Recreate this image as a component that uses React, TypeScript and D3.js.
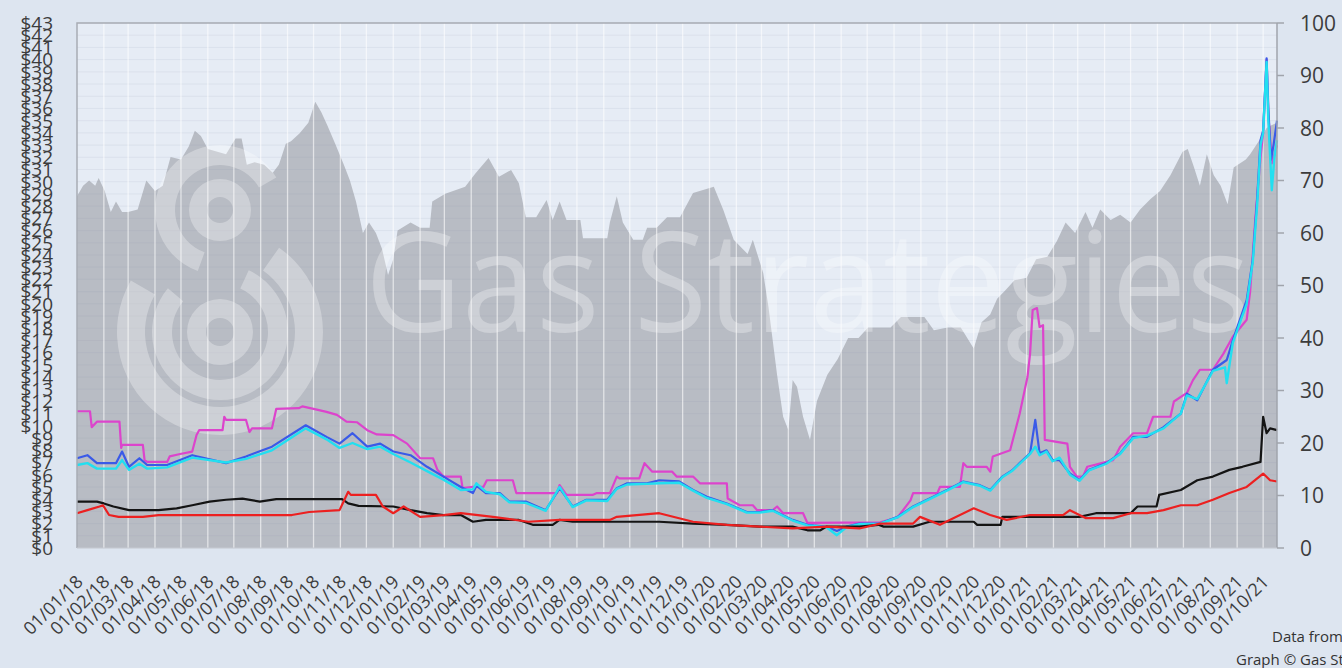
import { useEffect, useRef } from "react"
import * as d3 from "d3"

type Point = [string, number]

// oil price, right axis (grey area)
const oilArea: Point[] = [
  ["2018-01-01", 67], ["2018-01-08", 69], ["2018-01-15", 70], ["2018-01-22", 69], ["2018-01-26", 70.5],
  ["2018-02-02", 68], ["2018-02-09", 64], ["2018-02-15", 66], ["2018-02-22", 64], ["2018-03-01", 64],
  ["2018-03-12", 64.5], ["2018-03-22", 70], ["2018-04-01", 68], ["2018-04-10", 69], ["2018-04-19", 74.5],
  ["2018-05-01", 74], ["2018-05-10", 76.5], ["2018-05-17", 79.5], ["2018-05-24", 78.5], ["2018-06-01", 76],
  ["2018-06-12", 75.5], ["2018-06-22", 75], ["2018-07-03", 78], ["2018-07-10", 78], ["2018-07-16", 73],
  ["2018-07-25", 73.5], ["2018-08-05", 73], ["2018-08-15", 71.5], ["2018-08-22", 73], ["2018-08-30", 77],
  ["2018-09-05", 77.5], ["2018-09-15", 79], ["2018-09-25", 81], ["2018-10-03", 85], ["2018-10-10", 83],
  ["2018-10-17", 80.5], ["2018-10-26", 77], ["2018-11-05", 73], ["2018-11-12", 70], ["2018-11-19", 66],
  ["2018-11-27", 60], ["2018-12-04", 62], ["2018-12-12", 60], ["2018-12-19", 57], ["2018-12-26", 52],
  ["2019-01-01", 55], ["2019-01-06", 60.5], ["2019-01-21", 62], ["2019-02-01", 61], ["2019-02-12", 61],
  ["2019-02-15", 66], ["2019-03-02", 67.5], ["2019-03-25", 68.8], ["2019-04-06", 71.4], ["2019-04-21", 74.3],
  ["2019-05-03", 70.7], ["2019-05-17", 72], ["2019-05-26", 69.5], ["2019-06-03", 63], ["2019-06-15", 63],
  ["2019-06-27", 66.3], ["2019-07-04", 62.5], ["2019-07-12", 66], ["2019-07-20", 62.5], ["2019-08-05", 62.5],
  ["2019-08-08", 59], ["2019-09-05", 59], ["2019-09-08", 62], ["2019-09-16", 67], ["2019-09-23", 62],
  ["2019-10-05", 58.7], ["2019-10-16", 58.7], ["2019-10-21", 61], ["2019-11-01", 61], ["2019-11-13", 63],
  ["2019-11-28", 63], ["2019-12-13", 67.6], ["2020-01-06", 68.8], ["2020-01-17", 64.4], ["2020-01-29", 58.7],
  ["2020-02-14", 56], ["2020-02-20", 58.7], ["2020-03-03", 52.4], ["2020-03-09", 46], ["2020-03-19", 33],
  ["2020-03-26", 25], ["2020-04-01", 22.5], ["2020-04-06", 32], ["2020-04-11", 30.7], ["2020-04-18", 25],
  ["2020-04-26", 20.6], ["2020-05-04", 28], ["2020-05-16", 33], ["2020-05-28", 36], ["2020-06-09", 40],
  ["2020-06-21", 40], ["2020-07-02", 42], ["2020-07-28", 42], ["2020-08-09", 44], ["2020-09-05", 44],
  ["2020-09-16", 41.5], ["2020-10-02", 42], ["2020-10-17", 42], ["2020-11-01", 38], ["2020-11-10", 43],
  ["2020-11-20", 44.5], ["2020-11-28", 47.5], ["2020-12-07", 49], ["2020-12-18", 51], ["2021-01-01", 51.5],
  ["2021-01-12", 55], ["2021-01-25", 55.5], ["2021-02-05", 58.5], ["2021-02-15", 62], ["2021-02-26", 60],
  ["2021-03-10", 64], ["2021-03-18", 61], ["2021-03-27", 64.5], ["2021-04-08", 62.5], ["2021-04-19", 63.5],
  ["2021-05-01", 62], ["2021-05-12", 64.5], ["2021-05-24", 66.5], ["2021-06-04", 68], ["2021-06-16", 71],
  ["2021-06-30", 75.5], ["2021-07-06", 76], ["2021-07-13", 72.6], ["2021-07-20", 69], ["2021-07-28", 75],
  ["2021-08-05", 71], ["2021-08-13", 69], ["2021-08-21", 65.5], ["2021-08-28", 72.5], ["2021-09-11", 74],
  ["2021-09-16", 75], ["2021-09-28", 78], ["2021-10-05", 80], ["2021-10-10", 80.5], ["2021-10-17", 81],
]

// gas prices, left axis ($)
const pinkLine: Point[] = [
  ["2018-01-01", 11.2], ["2018-01-16", 11.2], ["2018-01-18", 9.9], ["2018-01-24", 10.35], ["2018-02-19", 10.35],
  ["2018-02-21", 8.2], ["2018-02-22", 8.45], ["2018-03-18", 8.45], ["2018-03-20", 7.2], ["2018-03-23", 7.05],
  ["2018-04-15", 7.05], ["2018-04-18", 7.5], ["2018-04-30", 7.7], ["2018-05-14", 7.9], ["2018-05-19", 9.25],
  ["2018-05-22", 9.65], ["2018-06-18", 9.65], ["2018-06-20", 10.75], ["2018-06-22", 10.5], ["2018-07-15", 10.5],
  ["2018-07-19", 9.5], ["2018-07-22", 9.8], ["2018-08-14", 9.8], ["2018-08-19", 11.4], ["2018-09-14", 11.45],
  ["2018-09-18", 11.6], ["2018-10-01", 11.4], ["2018-10-16", 11.15], ["2018-10-28", 10.9], ["2018-11-08", 10.35],
  ["2018-11-20", 10.3], ["2018-12-02", 9.65], ["2018-12-13", 9.3], ["2019-01-01", 9.25], ["2019-01-17", 8.55],
  ["2019-02-01", 7.35], ["2019-02-16", 7.35], ["2019-02-21", 6.4], ["2019-02-28", 5.85], ["2019-03-20", 5.85],
  ["2019-03-22", 4.9], ["2019-04-03", 5.0], ["2019-04-15", 5.0], ["2019-04-19", 5.55], ["2019-05-19", 5.55],
  ["2019-05-23", 4.5], ["2019-07-09", 4.5], ["2019-07-12", 5.15], ["2019-07-20", 4.35], ["2019-08-19", 4.35],
  ["2019-08-24", 4.5], ["2019-09-08", 4.5], ["2019-09-16", 5.85], ["2019-09-19", 5.7], ["2019-10-12", 5.7],
  ["2019-10-18", 6.95], ["2019-10-27", 6.25], ["2019-11-19", 6.25], ["2019-11-24", 5.85], ["2019-12-13", 5.85],
  ["2019-12-21", 5.3], ["2020-01-21", 5.3], ["2020-01-22", 4.05], ["2020-02-05", 3.5], ["2020-02-20", 3.5],
  ["2020-02-25", 3.1], ["2020-03-14", 3.1], ["2020-03-19", 3.4], ["2020-03-26", 2.85], ["2020-04-18", 2.85],
  ["2020-04-23", 2.05], ["2020-07-16", 2.1], ["2020-08-05", 2.5], ["2020-08-20", 3.9], ["2020-08-23", 4.5],
  ["2020-09-20", 4.5], ["2020-09-23", 5.0], ["2020-10-16", 5.0], ["2020-10-20", 6.95], ["2020-10-24", 6.65],
  ["2020-11-16", 6.65], ["2020-11-20", 6.25], ["2020-11-23", 7.5], ["2020-12-13", 8.0], ["2020-12-24", 11],
  ["2021-01-02", 14], ["2021-01-05", 15.9], ["2021-01-08", 19.5], ["2021-01-13", 19.65], ["2021-01-16", 18.1],
  ["2021-01-20", 18.25], ["2021-01-22", 8.85], ["2021-02-17", 8.55], ["2021-02-20", 6.65], ["2021-02-28", 5.85],
  ["2021-03-07", 5.85], ["2021-03-12", 6.65], ["2021-04-11", 7.2], ["2021-04-19", 8.3], ["2021-05-04", 9.4],
  ["2021-05-20", 9.4], ["2021-05-27", 10.75], ["2021-06-16", 10.75], ["2021-06-20", 12.0], ["2021-07-05", 12.7],
  ["2021-07-12", 13.75], ["2021-07-20", 14.6], ["2021-08-04", 14.6], ["2021-08-16", 15.9], ["2021-08-27", 17.3],
  ["2021-09-12", 18.7], ["2021-09-16", 21], ["2021-09-19", 24], ["2021-09-22", 27], ["2021-09-28", 32],
  ["2021-10-01", 34], ["2021-10-05", 40], ["2021-10-07", 35.5], ["2021-10-11", 31.5], ["2021-10-17", 33],
]

const blueLine: Point[] = [
  ["2018-01-01", 7.35], ["2018-01-13", 7.6], ["2018-01-24", 6.95], ["2018-02-15", 6.95], ["2018-02-22", 7.9],
  ["2018-03-02", 6.65], ["2018-03-14", 7.35], ["2018-03-23", 6.8], ["2018-04-15", 6.8], ["2018-05-14", 7.6],
  ["2018-06-22", 6.95], ["2018-07-15", 7.5], ["2018-08-14", 8.3], ["2018-09-22", 10.05], ["2018-10-16", 9.1],
  ["2018-10-31", 8.55], ["2018-11-15", 9.4], ["2018-12-02", 8.3], ["2018-12-17", 8.55], ["2019-01-01", 7.9],
  ["2019-01-21", 7.6], ["2019-02-09", 6.65], ["2019-02-28", 5.85], ["2019-03-20", 5.0], ["2019-04-03", 4.5],
  ["2019-04-07", 5.1], ["2019-04-18", 4.5], ["2019-05-04", 4.5], ["2019-05-15", 3.8], ["2019-06-03", 3.8],
  ["2019-06-26", 3.1], ["2019-07-12", 4.9], ["2019-07-27", 3.4], ["2019-08-12", 3.95], ["2019-09-05", 3.95],
  ["2019-09-16", 4.9], ["2019-09-28", 5.3], ["2019-10-21", 5.3], ["2019-11-04", 5.55], ["2019-11-27", 5.45],
  ["2019-12-13", 4.75], ["2019-12-29", 4.2], ["2020-01-21", 3.65], ["2020-02-13", 2.95], ["2020-02-28", 2.95],
  ["2020-03-14", 3.1], ["2020-04-06", 2.3], ["2020-04-23", 1.9], ["2020-05-15", 1.75], ["2020-05-27", 1.4],
  ["2020-06-07", 1.75], ["2020-06-22", 2.0], ["2020-07-16", 2.0], ["2020-08-05", 2.55], ["2020-08-23", 3.4],
  ["2020-09-11", 4.05], ["2020-10-01", 4.75], ["2020-10-20", 5.45], ["2020-11-08", 5.15], ["2020-11-20", 4.75],
  ["2020-12-04", 5.85], ["2020-12-16", 6.4], ["2020-12-24", 6.95], ["2021-01-05", 7.75], ["2021-01-11", 10.5],
  ["2021-01-16", 7.75], ["2021-01-24", 8.0], ["2021-01-31", 7.2], ["2021-02-08", 7.2], ["2021-02-20", 6.1],
  ["2021-03-03", 5.55], ["2021-03-14", 6.4], ["2021-04-03", 6.95], ["2021-04-19", 7.75], ["2021-05-04", 9.1],
  ["2021-05-20", 9.1], ["2021-06-08", 9.9], ["2021-06-28", 11.0], ["2021-07-05", 12.65], ["2021-07-17", 12.1],
  ["2021-08-04", 14.6], ["2021-08-20", 15.4], ["2021-08-27", 17.0], ["2021-09-12", 20.3], ["2021-09-19", 23.6],
  ["2021-09-24", 28.5], ["2021-09-28", 33.4], ["2021-10-01", 34.2], ["2021-10-05", 40.1], ["2021-10-07", 36],
  ["2021-10-10", 31.8], ["2021-10-13", 33], ["2021-10-17", 35],
]

const cyanLine: Point[] = [
  ["2018-01-01", 6.8], ["2018-01-13", 6.95], ["2018-01-24", 6.5], ["2018-02-15", 6.5], ["2018-02-22", 7.2],
  ["2018-03-02", 6.4], ["2018-03-14", 6.9], ["2018-03-23", 6.5], ["2018-04-15", 6.6], ["2018-05-14", 7.4],
  ["2018-06-22", 7.0], ["2018-07-15", 7.3], ["2018-08-14", 8.0], ["2018-09-22", 9.8], ["2018-10-16", 8.9],
  ["2018-10-31", 8.2], ["2018-11-15", 8.6], ["2018-12-02", 8.1], ["2018-12-17", 8.3], ["2019-01-01", 7.7],
  ["2019-01-21", 7.0], ["2019-02-09", 6.3], ["2019-02-28", 5.6], ["2019-03-20", 4.75], ["2019-04-03", 4.8],
  ["2019-04-07", 5.3], ["2019-04-18", 4.6], ["2019-05-04", 4.4], ["2019-05-15", 3.75], ["2019-06-03", 3.7],
  ["2019-06-26", 3.05], ["2019-07-12", 5.0], ["2019-07-27", 3.35], ["2019-08-12", 3.9], ["2019-09-05", 3.85],
  ["2019-09-16", 4.85], ["2019-09-28", 5.2], ["2019-10-21", 5.25], ["2019-11-04", 5.3], ["2019-11-27", 5.35],
  ["2019-12-13", 4.7], ["2019-12-29", 4.1], ["2020-01-21", 3.6], ["2020-02-13", 2.9], ["2020-02-28", 2.9],
  ["2020-03-14", 3.05], ["2020-04-06", 2.25], ["2020-04-23", 1.85], ["2020-05-15", 1.7], ["2020-05-27", 1.05],
  ["2020-06-07", 1.7], ["2020-06-22", 1.95], ["2020-07-16", 2.0], ["2020-08-05", 2.5], ["2020-08-23", 3.35],
  ["2020-09-11", 4.0], ["2020-10-01", 4.7], ["2020-10-20", 5.4], ["2020-11-08", 5.1], ["2020-11-20", 4.7],
  ["2020-12-04", 5.8], ["2020-12-16", 6.35], ["2020-12-24", 6.9], ["2021-01-05", 7.7], ["2021-01-11", 8.3],
  ["2021-01-16", 7.6], ["2021-01-24", 7.9], ["2021-01-31", 7.1], ["2021-02-08", 7.4], ["2021-02-20", 6.0],
  ["2021-03-03", 5.5], ["2021-03-14", 6.35], ["2021-04-03", 6.9], ["2021-04-19", 7.7], ["2021-05-04", 9.0],
  ["2021-05-20", 9.2], ["2021-06-08", 9.8], ["2021-06-28", 11.0], ["2021-07-05", 12.5], ["2021-07-17", 12.2],
  ["2021-08-04", 14.5], ["2021-08-18", 14.8], ["2021-08-20", 13.5], ["2021-08-27", 16.8], ["2021-09-12", 20.0],
  ["2021-09-19", 23.4], ["2021-09-24", 28.0], ["2021-09-28", 33.0], ["2021-10-01", 34.0], ["2021-10-05", 39.8],
  ["2021-10-07", 35], ["2021-10-11", 29.3], ["2021-10-14", 32], ["2021-10-17", 33.4],
]

const blackLine: Point[] = [
  ["2018-01-01", 3.8], ["2018-01-24", 3.8], ["2018-02-01", 3.65], ["2018-02-12", 3.4], ["2018-03-02", 3.1],
  ["2018-04-05", 3.1], ["2018-04-26", 3.25], ["2018-05-14", 3.5], ["2018-06-03", 3.8], ["2018-06-22", 3.95],
  ["2018-07-11", 4.05], ["2018-07-31", 3.8], ["2018-08-19", 4.0], ["2018-11-03", 4.0], ["2018-11-10", 3.65],
  ["2018-11-22", 3.45], ["2019-01-01", 3.4], ["2019-01-21", 3.1], ["2019-02-09", 2.85], ["2019-02-28", 2.7],
  ["2019-03-20", 2.7], ["2019-04-03", 2.15], ["2019-04-18", 2.3], ["2019-05-26", 2.3], ["2019-06-11", 1.9],
  ["2019-07-04", 1.9], ["2019-07-12", 2.3], ["2019-07-27", 2.15], ["2019-11-04", 2.15], ["2019-12-13", 2.0],
  ["2020-01-21", 1.9], ["2020-02-28", 1.75], ["2020-04-06", 1.75], ["2020-04-23", 1.45], ["2020-05-08", 1.45],
  ["2020-05-15", 1.75], ["2020-06-22", 1.75], ["2020-07-14", 1.9], ["2020-07-20", 1.75], ["2020-08-23", 1.75],
  ["2020-09-11", 2.15], ["2020-11-01", 2.15], ["2020-11-05", 1.9], ["2020-12-02", 1.9], ["2020-12-04", 2.55],
  ["2021-03-03", 2.55], ["2021-03-22", 2.85], ["2021-05-01", 2.85], ["2021-05-09", 3.4], ["2021-05-31", 3.4],
  ["2021-06-03", 4.35], ["2021-06-28", 4.75], ["2021-07-17", 5.55], ["2021-08-04", 5.85], ["2021-08-23", 6.4],
  ["2021-09-07", 6.65], ["2021-09-28", 7.05], ["2021-10-01", 10.75], ["2021-10-05", 9.4], ["2021-10-09", 9.8],
  ["2021-10-17", 9.65],
]

const redLine: Point[] = [
  ["2018-01-01", 2.85], ["2018-01-13", 3.1], ["2018-01-27", 3.4], ["2018-01-31", 3.5], ["2018-02-07", 2.7],
  ["2018-02-18", 2.55], ["2018-03-18", 2.55], ["2018-04-05", 2.7], ["2018-09-06", 2.7], ["2018-09-26", 2.95],
  ["2018-10-31", 3.1], ["2018-11-10", 4.6], ["2018-11-13", 4.35], ["2018-12-12", 4.35], ["2018-12-20", 3.4],
  ["2019-01-01", 2.85], ["2019-01-13", 3.4], ["2019-02-01", 2.55], ["2019-02-28", 2.7], ["2019-03-20", 2.85],
  ["2019-04-26", 2.55], ["2019-06-06", 2.15], ["2019-07-12", 2.3], ["2019-09-08", 2.3], ["2019-09-16", 2.55],
  ["2019-11-04", 2.85], ["2019-12-13", 2.15], ["2020-01-21", 1.9], ["2020-02-28", 1.75], ["2020-04-06", 1.6],
  ["2020-05-15", 1.75], ["2020-06-22", 1.6], ["2020-07-16", 2.0], ["2020-08-23", 2.0], ["2020-08-31", 2.55],
  ["2020-09-23", 1.9], ["2020-11-01", 3.25], ["2020-11-20", 2.7], ["2020-12-09", 2.3], ["2021-01-05", 2.7],
  ["2021-02-12", 2.7], ["2021-02-20", 3.1], ["2021-03-10", 2.45], ["2021-04-11", 2.45], ["2021-05-01", 2.85],
  ["2021-05-20", 2.85], ["2021-06-08", 3.1], ["2021-06-28", 3.5], ["2021-07-17", 3.5], ["2021-08-04", 3.95],
  ["2021-08-23", 4.5], ["2021-09-12", 5.0], ["2021-10-01", 6.1], ["2021-10-09", 5.55], ["2021-10-17", 5.45],
]

const leftTicks = d3.range(0, 44)
const rightTicks = [0, 10, 20, 30, 40, 50, 60, 70, 80, 90, 100]
const startDay = "2018-01-01"
const endDay = "2021-10-17"
const lastLabelDay = "2021-10-01"

const App = () => {
  const svgRef = useRef<SVGSVGElement | null>(null)

  useEffect(() => {
    const parse = d3.timeParse("%Y-%m-%d")
    const svg = d3.select(svgRef.current)
    svg.selectAll("*").remove()

    const left = 77
    const right = 1277
    const top = 23
    const bottom = 548

    const x = d3.scaleTime().domain([parse(startDay)!, parse(endDay)!]).range([left, right])
    const yLeft = d3.scaleLinear().domain([0, 43]).range([bottom, top])
    const yRight = d3.scaleLinear().domain([0, 100]).range([bottom, top])

    svg.append("rect").attr("width", 1342).attr("height", 668).attr("fill", "#dde5f0")
    svg.append("rect")
      .attr("x", left).attr("y", top).attr("width", right - left).attr("height", bottom - top)
      .attr("fill", "#e6ecf5")

    // oil area
    const area = d3.area<Point>()
      .x((d) => x(parse(d[0])!))
      .y0(bottom)
      .y1((d) => yRight(d[1]))
    svg.append("path").datum(oilArea).attr("d", area).attr("fill", "#b8bcc4")

    // gridlines
    const months = d3.timeMonth.range(parse(startDay)!, d3.timeDay.offset(parse(lastLabelDay)!, 1))
    svg.append("g").selectAll("line")
      .data(leftTicks)
      .enter()
      .append("line")
      .attr("x1", left).attr("x2", right)
      .attr("y1", (d) => yLeft(d)).attr("y2", (d) => yLeft(d))
      .attr("stroke", "#8a96aa").attr("stroke-opacity", 0.12).attr("stroke-width", 1)
    svg.append("g").selectAll("line")
      .data(months.slice(1))
      .enter()
      .append("line")
      .attr("x1", (d) => x(d)).attr("x2", (d) => x(d))
      .attr("y1", top).attr("y2", bottom)
      .attr("stroke", "#ffffff").attr("stroke-opacity", 0.6).attr("stroke-width", 1.3)

    // watermark
    const mark = svg.append("g").attr("fill", "#ffffff").attr("fill-opacity", 0.3)
    const arc = d3.arc<any>()
    const deg = Math.PI / 180
    const rings = [
      { cx: 220, cy: 210, r0: 13, r1: 31, a0: 0, a1: 360 },
      { cx: 220, cy: 332, r0: 14, r1: 33, a0: 0, a1: 360 },
      { cx: 220, cy: 210, r0: 45, r1: 65, a0: -160, a1: 60 },
      { cx: 220, cy: 332, r0: 48, r1: 68, a0: 25, a1: 310 },
      { cx: 220, cy: 332, r0: 75, r1: 103, a0: 35, a1: 300 },
    ]
    rings.forEach((r) => {
      mark.append("path")
        .attr("transform", `translate(${r.cx},${r.cy})`)
        .attr("d", arc({ innerRadius: r.r0, outerRadius: r.r1, startAngle: r.a0 * deg, endAngle: r.a1 * deg }))
    })
    mark.append("text")
      .attr("x", 365).attr("y", 332)
      .attr("font-family", "Open Sans, sans-serif").attr("font-size", 140)
      .attr("textLength", 885).attr("lengthAdjust", "spacingAndGlyphs")
      .text("Gas Strategies")

    // price lines
    const line = d3.line<Point>()
      .x((d) => x(parse(d[0])!))
      .y((d) => yLeft(d[1]))
    const series: [Point[], string, number][] = [
      [pinkLine, "#dc44cc", 2.2],
      [blueLine, "#3a5ae8", 2.2],
      [cyanLine, "#22dff0", 2.4],
      [blackLine, "#141414", 2.2],
      [redLine, "#ec2020", 2.2],
    ]
    series.forEach(([data, color, w]) => {
      svg.append("path").datum(data)
        .attr("d", line).attr("fill", "none")
        .attr("stroke", color).attr("stroke-width", w).attr("stroke-linejoin", "round")
    })

    // frame
    svg.append("path")
      .attr("d", `M${left},${bottom}V${top}H${right}`)
      .attr("fill", "none").attr("stroke", "#a8acb4").attr("stroke-width", 1.5)
    svg.append("line")
      .attr("x1", right).attr("x2", right).attr("y1", top).attr("y2", bottom)
      .attr("stroke", "#a0a4ac").attr("stroke-width", 1.5)
    svg.append("line")
      .attr("x1", left).attr("x2", right).attr("y1", bottom).attr("y2", bottom)
      .attr("stroke", "#c8ccd4").attr("stroke-width", 1)

    // right axis
    const rightAxis = svg.append("g")
    rightAxis.selectAll("line")
      .data(rightTicks)
      .enter()
      .append("line")
      .attr("x1", right).attr("x2", right + 7)
      .attr("y1", (d) => yRight(d)).attr("y2", (d) => yRight(d))
      .attr("stroke", "#a0a4ac").attr("stroke-width", 1.5)
    rightAxis.selectAll("text")
      .data(rightTicks)
      .enter()
      .append("text")
      .attr("x", 1300).attr("y", (d) => yRight(d)).attr("dy", "0.36em")
      .attr("font-family", "Open Sans, sans-serif").attr("font-size", 21)
      .attr("fill", "#3c3c3c")
      .text((d) => d)

    // left axis
    svg.append("g").selectAll("text")
      .data(leftTicks)
      .enter()
      .append("text")
      .attr("x", 53).attr("y", (d) => yLeft(d)).attr("dy", "0.36em")
      .attr("text-anchor", "end")
      .attr("font-family", "Open Sans, sans-serif").attr("font-size", 19)
      .attr("fill", "#3c3c3c")
      .text((d) => `$${d}`)

    // date labels
    const fmt = d3.timeFormat("%d/%m/%y")
    svg.append("g").selectAll("text")
      .data(months)
      .enter()
      .append("text")
      .attr("transform", (d) => `translate(${x(d) + 7},583) rotate(-45)`)
      .attr("text-anchor", "end")
      .attr("font-family", "Open Sans, sans-serif").attr("font-size", 18)
      .attr("fill", "#3c3c3c")
      .text((d) => fmt(d))

    // source note
    svg.append("text")
      .attr("x", 1272).attr("y", 642)
      .attr("font-family", "Open Sans, sans-serif").attr("font-size", 15).attr("fill", "#333")
      .text("Data from Gas Strategies")
    svg.append("text")
      .attr("x", 1236).attr("y", 665)
      .attr("font-family", "Open Sans, sans-serif").attr("font-size", 15).attr("fill", "#333")
      .text("Graph © Gas Strategies")
  }, [])

  return <svg ref={svgRef} width={1342} height={668} style={{ position: "fixed", left: 0, top: 0 }} />
}

export default App
